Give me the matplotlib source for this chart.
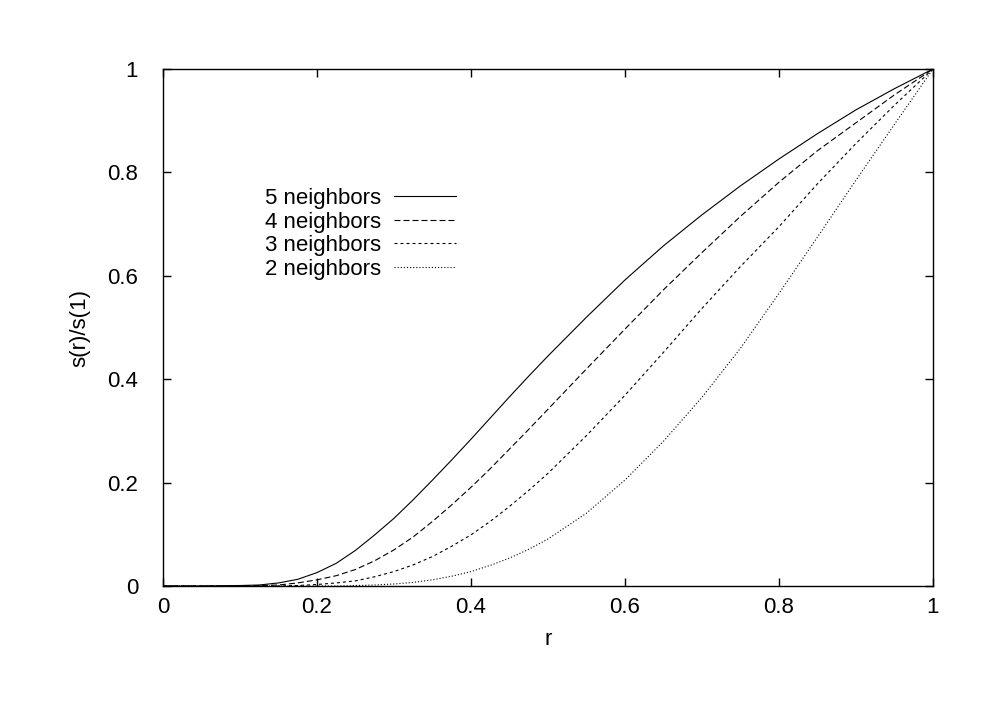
import numpy as np
import matplotlib
matplotlib.use("Agg")
import matplotlib.pyplot as plt

# ---- data ----
r = [0.0, 0.05, 0.1, 0.125, 0.15, 0.175, 0.2, 0.225, 0.25, 0.275, 0.3,
     0.325, 0.35, 0.375, 0.4, 0.425, 0.45, 0.475, 0.5,
     0.55, 0.6, 0.65, 0.7, 0.75, 0.8, 0.85, 0.9, 0.95, 1.0]
n5 = [0.0, 0.0, 0.001, 0.002, 0.006, 0.013, 0.026, 0.044, 0.069, 0.099, 0.131,
      0.167, 0.205, 0.244, 0.284, 0.325, 0.366, 0.406, 0.445,
      0.520, 0.592, 0.658, 0.718, 0.774, 0.826, 0.875, 0.921, 0.962, 1.0]
n4 = [0.0, 0.0, 0.0, 0.001, 0.002, 0.006, 0.012, 0.020, 0.032, 0.049, 0.070,
      0.095, 0.125, 0.157, 0.191, 0.227, 0.265, 0.303, 0.342,
      0.420, 0.497, 0.573, 0.645, 0.715, 0.781, 0.842, 0.896, 0.950, 1.0]
n3 = [0.0, 0.0, 0.0, 0.0, 0.0, 0.001, 0.003, 0.006, 0.010, 0.018, 0.028,
      0.041, 0.057, 0.077, 0.099, 0.125, 0.154, 0.185, 0.218,
      0.291, 0.369, 0.452, 0.537, 0.618, 0.695, 0.778, 0.856, 0.930, 1.0]
n2 = [0.0, 0.0, 0.0, 0.0, 0.0, 0.0, 0.0, 0.0, 0.001, 0.002, 0.004,
      0.007, 0.012, 0.019, 0.028, 0.040, 0.054, 0.071, 0.091,
      0.141, 0.205, 0.280, 0.365, 0.460, 0.566, 0.675, 0.785, 0.893, 1.0]

labels = ["5 neighbors", "4 neighbors", "3 neighbors", "2 neighbors"]
ticks = [0, 0.2, 0.4, 0.6, 0.8, 1]
tick_labels = ["0", "0.2", "0.4", "0.6", "0.8", "1"]

plt.rcParams['font.family'] = ['Liberation Sans', 'DejaVu Sans']

fig = plt.figure(figsize=(9.94, 7.07), dpi=100)
ax = fig.add_axes([0.164, 0.1711, 0.7746, 0.7313])

styles = ['-', (0, (5.4, 2.7)), (0, (2.7, 2.7)), (0, (1.0, 1.8))]
for ys, lab, ls in zip([n5, n4, n3, n2], labels, styles):
    ax.plot(r, ys, color='black', linestyle=ls, linewidth=0.8, label=lab)

ax.set_xlim(0, 1)
ax.set_ylim(0, 1)
ax.set_xticks(ticks)
ax.set_xticklabels(tick_labels)
ax.set_yticks(ticks)
ax.set_yticklabels(tick_labels)
ax.tick_params(direction='in', top=True, right=True, length=6, width=1,
               labelsize=16)
ax.tick_params(axis='y', pad=18)
ax.tick_params(axis='x', pad=8)
for sp in ax.spines.values():
    sp.set_linewidth(1)

ax.set_xlabel('r', fontsize=16)
ax.set_ylabel('s(r)/s(1)', fontsize=16)
ax.xaxis.set_label_coords(0.5, -0.104)
ax.xaxis.label.set_va('center')
ax.yaxis.set_label_coords(-0.108, 0.5)
ax.yaxis.label.set_va('center')

ax.legend(loc='upper right', bbox_to_anchor=(0.381, 0.770), frameon=False,
          markerfirst=False, fontsize=16, handlelength=2.8,
          handletextpad=0.6, labelspacing=0.12, borderpad=0, borderaxespad=0)

fig.savefig('out.png', dpi=100)
